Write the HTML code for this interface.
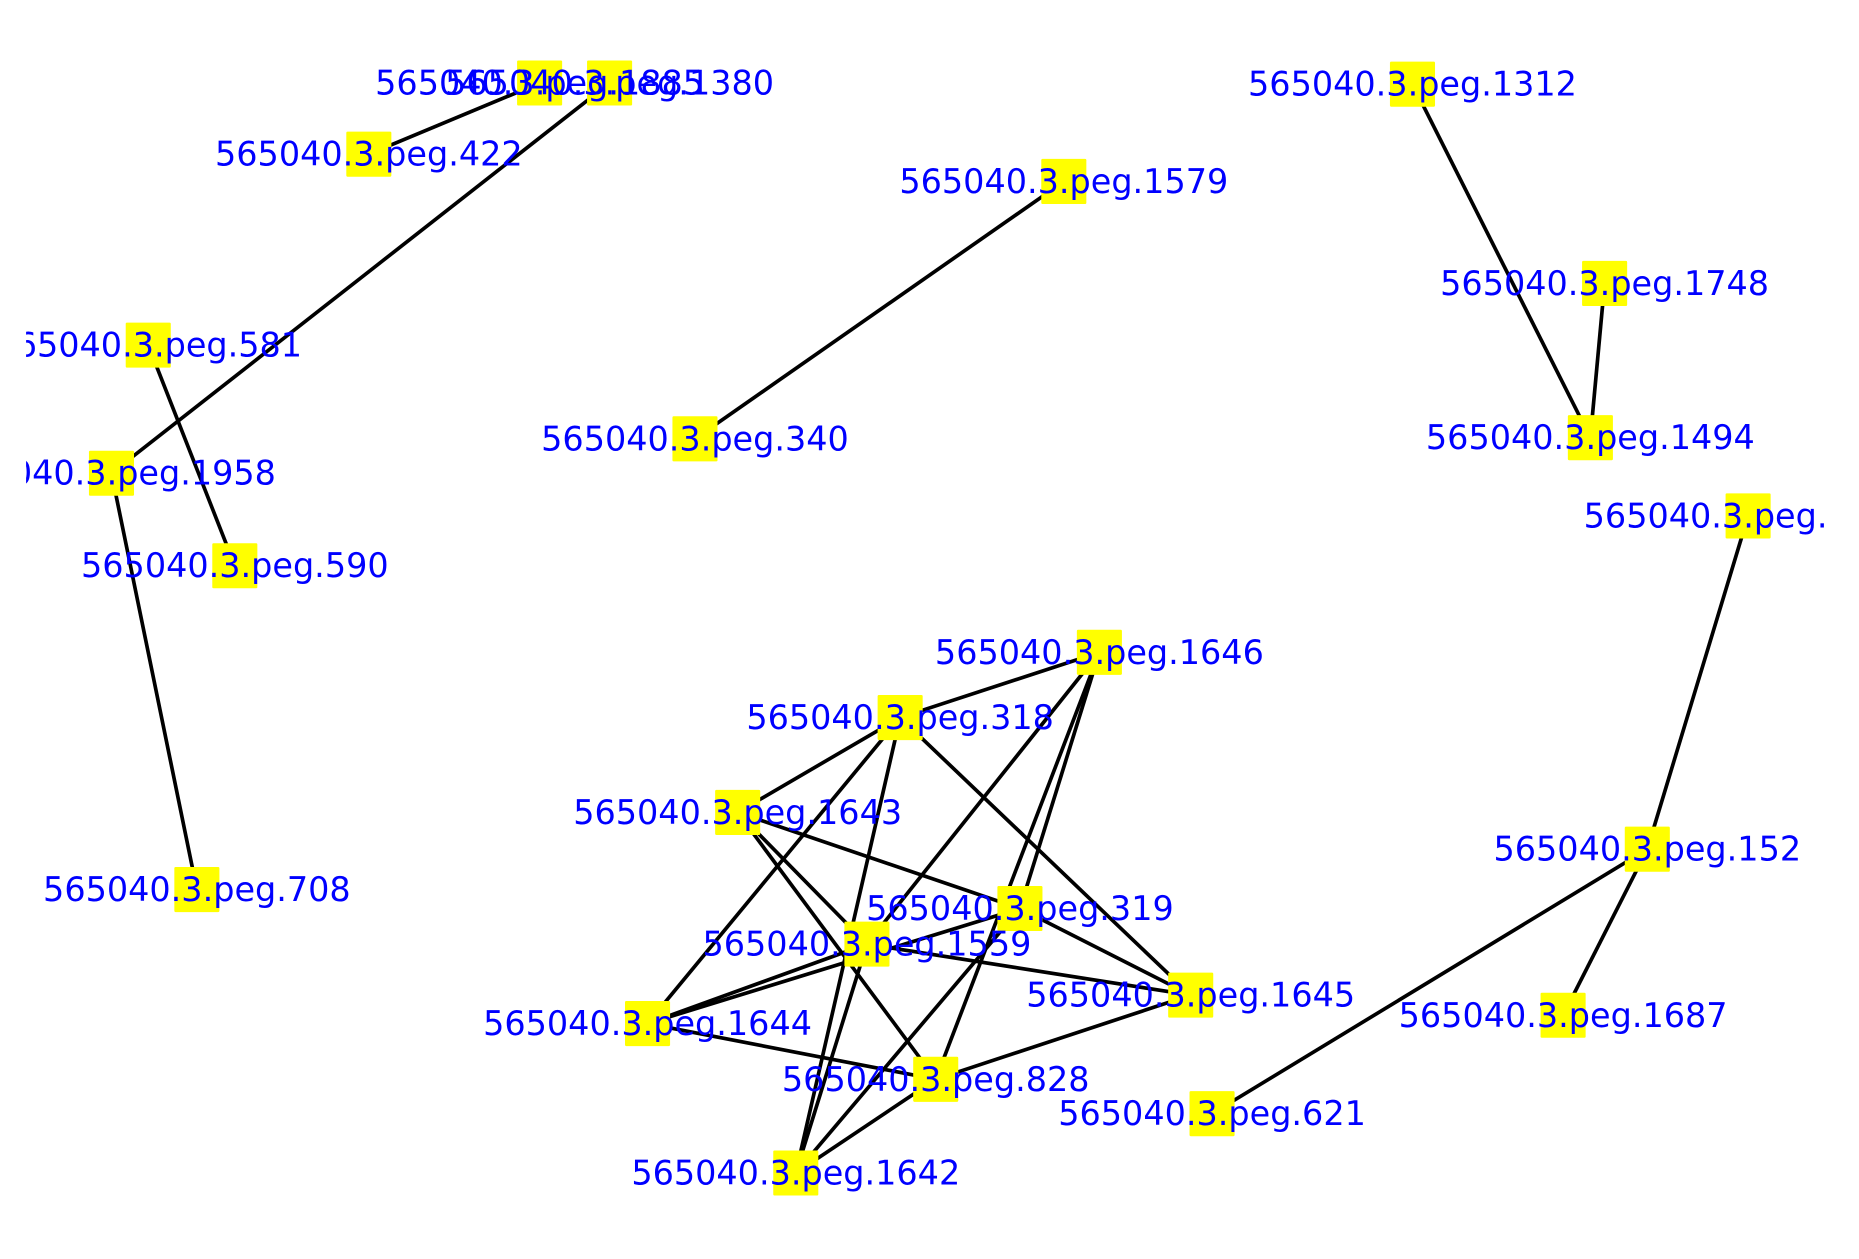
<!DOCTYPE html>
<html><head><meta charset="utf-8"><style>html,body{margin:0;padding:0;background:#fff;}svg{display:block}</style></head>
<body>
<svg width="1859" height="1259" viewBox="0 0 1567.5 1061.5" xmlns="http://www.w3.org/2000/svg" preserveAspectRatio="none">
<defs><clipPath id="c"><rect x="22" y="0" width="1518" height="1061.5"/></clipPath></defs>
<g clip-path="url(#c)">
<g stroke="#000" stroke-width="3.1" fill="none">
<line x1="311" y1="130" x2="455" y2="70"/>
<line x1="514" y1="70" x2="94" y2="399"/>
<line x1="125" y1="291" x2="198" y2="477"/>
<line x1="94" y1="399" x2="166" y2="750"/>
<line x1="897" y1="153" x2="586" y2="370"/>
<line x1="1191" y1="71" x2="1341" y2="369"/>
<line x1="1353" y1="239" x2="1341" y2="369"/>
<line x1="1474" y1="435" x2="1389" y2="716"/>
<line x1="1389" y1="716" x2="1318" y2="856"/>
<line x1="1389" y1="716" x2="1022" y2="939"/>
<line x1="759" y1="605" x2="927" y2="550"/>
<line x1="759" y1="605" x2="622" y2="685"/>
<line x1="759" y1="605" x2="546" y2="863"/>
<line x1="759" y1="605" x2="671" y2="989"/>
<line x1="759" y1="605" x2="1004" y2="839"/>
<line x1="927" y1="550" x2="731" y2="796"/>
<line x1="927" y1="550" x2="860" y2="766"/>
<line x1="927" y1="550" x2="789" y2="910"/>
<line x1="622" y1="685" x2="860" y2="766"/>
<line x1="622" y1="685" x2="731" y2="796"/>
<line x1="622" y1="685" x2="789" y2="910"/>
<line x1="546" y1="863" x2="731" y2="796"/>
<line x1="546" y1="863" x2="860" y2="766"/>
<line x1="546" y1="863" x2="789" y2="910"/>
<line x1="731" y1="796" x2="1004" y2="839"/>
<line x1="731" y1="796" x2="671" y2="989"/>
<line x1="860" y1="766" x2="1004" y2="839"/>
<line x1="860" y1="766" x2="671" y2="989"/>
<line x1="1004" y1="839" x2="789" y2="910"/>
<line x1="789" y1="910" x2="671" y2="989"/>
</g>
<g fill="#ffff00">
<rect x="436" y="51" width="38" height="38" rx="1"/>
<rect x="495" y="51" width="38" height="38" rx="1"/>
<rect x="292" y="111" width="38" height="38" rx="1"/>
<rect x="75" y="380" width="38" height="38" rx="1"/>
<rect x="106" y="272" width="38" height="38" rx="1"/>
<rect x="179" y="458" width="38" height="38" rx="1"/>
<rect x="147" y="731" width="38" height="38" rx="1"/>
<rect x="878" y="134" width="38" height="38" rx="1"/>
<rect x="567" y="351" width="38" height="38" rx="1"/>
<rect x="1172" y="52" width="38" height="38" rx="1"/>
<rect x="1334" y="220" width="38" height="38" rx="1"/>
<rect x="1322" y="350" width="38" height="38" rx="1"/>
<rect x="1455" y="416" width="38" height="38" rx="1"/>
<rect x="1370" y="697" width="38" height="38" rx="1"/>
<rect x="1299" y="837" width="38" height="38" rx="1"/>
<rect x="1003" y="920" width="38" height="38" rx="1"/>
<rect x="908" y="531" width="38" height="38" rx="1"/>
<rect x="740" y="586" width="38" height="38" rx="1"/>
<rect x="603" y="666" width="38" height="38" rx="1"/>
<rect x="841" y="747" width="38" height="38" rx="1"/>
<rect x="712" y="777" width="38" height="38" rx="1"/>
<rect x="985" y="820" width="38" height="38" rx="1"/>
<rect x="527" y="844" width="38" height="38" rx="1"/>
<rect x="770" y="891" width="38" height="38" rx="1"/>
<rect x="652" y="970" width="38" height="38" rx="1"/>
</g>
<g fill="#0000ff" font-family="DejaVu Sans, Liberation Sans, sans-serif" font-size="28.2" text-anchor="middle" dominant-baseline="central">
<text x="455" y="70">565040.3.peg.1885</text>
<text x="514" y="70">565040.3.peg.1380</text>
<text x="311" y="130">565040.3.peg.422</text>
<text x="94" y="399">565040.3.peg.1958</text>
<text x="125" y="291">565040.3.peg.581</text>
<text x="198" y="477">565040.3.peg.590</text>
<text x="166" y="750">565040.3.peg.708</text>
<text x="897" y="153">565040.3.peg.1579</text>
<text x="586" y="370">565040.3.peg.340</text>
<text x="1191" y="71">565040.3.peg.1312</text>
<text x="1353" y="239">565040.3.peg.1748</text>
<text x="1341" y="369">565040.3.peg.1494</text>
<text x="1474" y="435">565040.3.peg.1930</text>
<text x="1389" y="716">565040.3.peg.152</text>
<text x="1318" y="856">565040.3.peg.1687</text>
<text x="1022" y="939">565040.3.peg.621</text>
<text x="927" y="550">565040.3.peg.1646</text>
<text x="759" y="605">565040.3.peg.318</text>
<text x="622" y="685">565040.3.peg.1643</text>
<text x="860" y="766">565040.3.peg.319</text>
<text x="731" y="796">565040.3.peg.1559</text>
<text x="1004" y="839">565040.3.peg.1645</text>
<text x="546" y="863">565040.3.peg.1644</text>
<text x="789" y="910">565040.3.peg.828</text>
<text x="671" y="989">565040.3.peg.1642</text>
</g>
</g>
</svg>
</body></html>
